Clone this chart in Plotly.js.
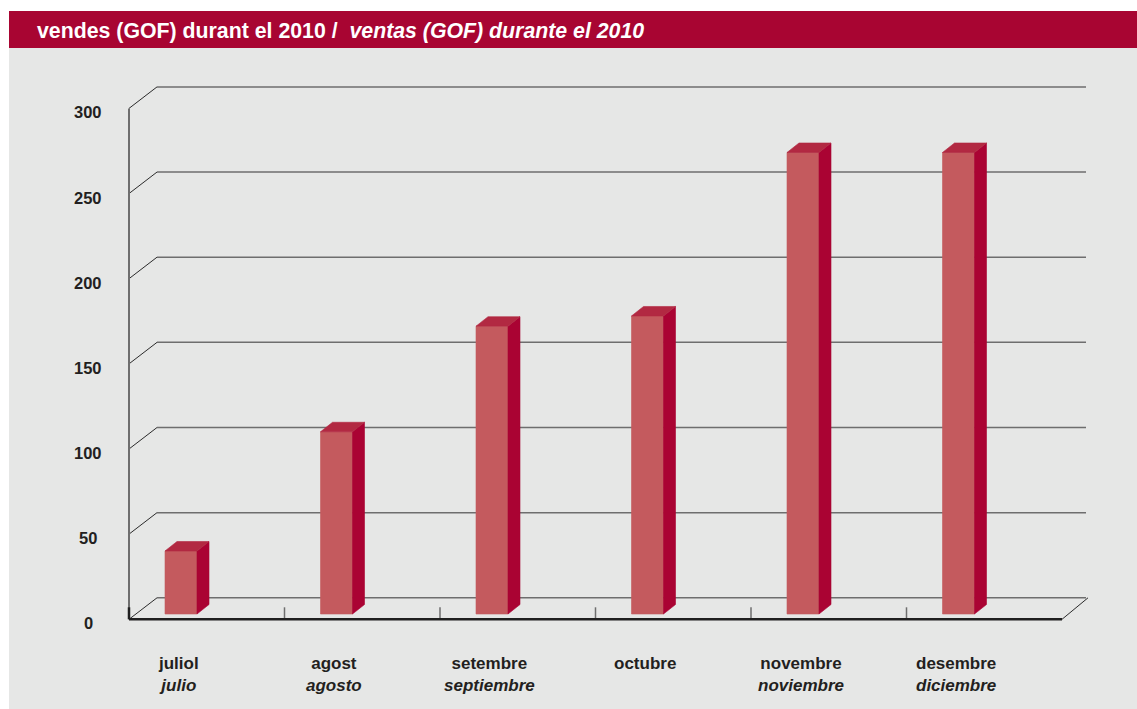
<!DOCTYPE html>
<html>
<head>
<meta charset="utf-8">
<script src="https://cdn.plot.ly/plotly-3.0.1.min.js"></script>
<style>
  html, body { margin: 0; padding: 0; background: #ffffff; }
  #chart { width: 1137px; height: 709px; }
</style>
</head>
<body>
<div id="chart"></div>
<script>
// ---- data ----
const categories   = ['juliol', 'agost', 'setembre', 'octubre', 'novembre', 'desembre'];
const categoriesEs = ['julio', 'agosto', 'septiembre', '', 'noviembre', 'diciembre'];
const sales        = [37, 107, 169, 175, 271, 271];
const yTicks       = [0, 50, 100, 150, 200, 250, 300];
const titleCa = 'vendes (GOF) durant el 2010 /';
const titleEs = 'ventas (GOF) durante el 2010';

// ---- geometry / style (pixel-derived scale settings) ----
const W = 1137, H = 709;
const PX_PER_CAT = 155.5, BAR0_PX = 181;     // bar i centre in px = BAR0_PX + i*PX_PER_CAT
const PX_PER_UNIT = 1.703, ZERO_PX = 619.3;  // front-plane value 0 in px
const xRange = [-BAR0_PX / PX_PER_CAT, (W - BAR0_PX) / PX_PER_CAT];
const yRange = [-(H - ZERO_PX) / PX_PER_UNIT, ZERO_PX / PX_PER_UNIT];

const xL = (129 - BAR0_PX) / PX_PER_CAT;      // front-left corner of floor
const xR = xL + categories.length;            // front-right corner
const wallDx = 28 / PX_PER_CAT, wallDy = 21.5 / PX_PER_UNIT;   // depth of back wall
const wallEndTrim = 4 / PX_PER_CAT;
const barW = 32 / PX_PER_CAT;
const barBase = 5.3 / PX_PER_UNIT;            // bars sit mid-depth
const barDx = 12 / PX_PER_CAT, barDy = 9.5 / PX_PER_UNIT;
const tickLen = 12 / PX_PER_UNIT;

const C_FRONT = '#C45A5E', C_SIDE = '#AA0333', C_TOP = '#B22942';
const C_GRID = '#6E6E6E', C_DIAG = '#2B2B2B', C_BASE = '#1F1F1F', C_TEXT = '#231F20';

const traces = [];
function line(xs, ys, color, width) {
  traces.push({type: 'scatter', mode: 'lines', x: xs, y: ys, hoverinfo: 'skip',
               showlegend: false, line: {color: color, width: width}, cliponaxis: false});
}
function poly(xs, ys, color) {
  traces.push({type: 'scatter', mode: 'lines', x: xs, y: ys, fill: 'toself', fillcolor: color,
               hoverinfo: 'skip', showlegend: false, line: {color: color, width: 0.6}, cliponaxis: false});
}

// back-wall grid lines and their diagonal connectors
yTicks.forEach(v => {
  line([xL + wallDx, xR + wallDx - wallEndTrim], [v + wallDy, v + wallDy], C_GRID, 1.5);
  line([xL, xL + wallDx], [v, v + wallDy], C_DIAG, 1);
});
// right floor diagonal
line([xR, xR + wallDx - wallEndTrim / 2], [0, wallDy], C_DIAG, 1);
// front vertical axis
line([xL, xL], [0, yTicks[yTicks.length - 1]], C_GRID, 2);
// category tick marks
for (let k = 1; k < categories.length; k++) line([xL + k, xL + k], [0, tickLen], C_GRID, 1.5);
line([xL, xL], [0, tickLen], C_BASE, 2.5);
// front base line
line([xL, xR], [0, 0], C_BASE, 2.5);

// bars (front, side, top faces)
sales.forEach((v, i) => {
  const a = i - barW / 2, b = i + barW / 2, y0 = barBase, y1 = barBase + v;
  poly([a, b, b, a, a], [y0, y0, y1, y1, y0], C_FRONT);
  poly([b, b + barDx, b + barDx, b, b], [y0, y0 + barDy, y1 + barDy, y1, y0], C_SIDE);
  poly([a, b, b + barDx, a + barDx, a], [y1, y1, y1 + barDy, y1 + barDy, y1], C_TOP);
});

const annotations = [];
yTicks.forEach(v => annotations.push({
  xref: 'paper', x: 88 / W, yref: 'y', y: v, yshift: -4, xanchor: 'center', yanchor: 'middle',
  text: '<b>' + v + '</b>', showarrow: false,
  font: {family: 'Liberation Sans, Arial, sans-serif', size: 16.5, color: C_TEXT}
}));
categories.forEach((c, i) => annotations.push({
  xref: 'x', x: i - 0.015, yref: 'paper', y: 1 - 652 / H, xanchor: 'center', yanchor: 'top',
  text: '<b>' + c + '</b>' + (categoriesEs[i] ? '<br><b><i>' + categoriesEs[i] + '</i></b>' : ''),
  showarrow: false, align: 'center',
  font: {family: 'Liberation Sans, Arial, sans-serif', size: 17, color: C_TEXT}
}));

const layout = {
  width: W, height: H,
  margin: {l: 0, r: 0, t: 0, b: 0, pad: 0},
  paper_bgcolor: '#ffffff', plot_bgcolor: 'rgba(0,0,0,0)',
  showlegend: false,
  title: {
    text: '<b>' + titleCa + '  <i>' + titleEs + '</i></b>',
    x: 37 / W, xanchor: 'left', xref: 'paper',
    y: 1 - 30.5 / H, yanchor: 'middle', yref: 'container',
    font: {family: 'Liberation Sans, Arial, sans-serif', size: 21.3, color: '#ffffff'}
  },
  xaxis: {range: xRange, visible: false, fixedrange: true},
  yaxis: {range: yRange, visible: false, fixedrange: true},
  shapes: [
    {type: 'rect', xref: 'paper', yref: 'paper', x0: 9 / W, x1: 1, y0: 0, y1: 1 - 48 / H,
     fillcolor: '#E6E7E6', line: {width: 0}, layer: 'below'},
    {type: 'rect', xref: 'paper', yref: 'paper', x0: 9 / W, x1: 1, y0: 1 - 48 / H, y1: 1 - 11 / H,
     fillcolor: '#A80532', line: {width: 0}, layer: 'below'}
  ],
  annotations: annotations
};

Plotly.newPlot('chart', traces, layout, {displayModeBar: false, staticPlot: true});
</script>
</body>
</html>
